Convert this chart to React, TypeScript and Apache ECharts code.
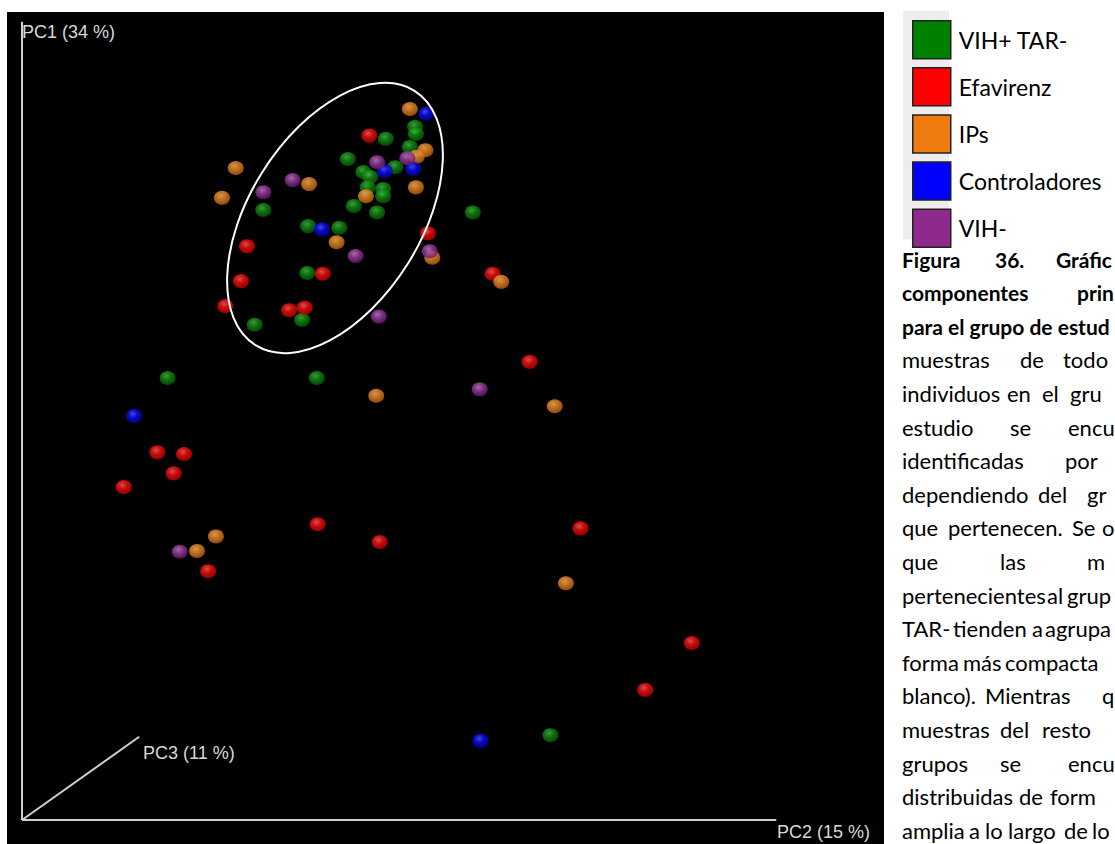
import React, { useEffect, useRef } from 'react';
import * as echarts from 'echarts';

// PCA scores [PC2, PC1] for each study group
const GROUP_NAMES = ['VIH+ TAR-', 'Efavirenz', 'IPs', 'Controladores', 'VIH-'];

const vihPosTarNeg: number[][] = [
  [0.422, 0.843], [0.456, 0.858], [0.457, 0.849], [0.45, 0.833], [0.378, 0.818],
  [0.433, 0.808], [0.396, 0.802], [0.404, 0.796], [0.401, 0.783], [0.419, 0.781],
  [0.419, 0.772], [0.385, 0.76], [0.412, 0.752], [0.28, 0.755], [0.523, 0.752],
  [0.332, 0.735], [0.368, 0.733], [0.331, 0.677], [0.325, 0.619], [0.27, 0.613],
  [0.169, 0.547], [0.342, 0.547], [0.613, 0.105],
];

const efavirenz: number[][] = [
  [0.403, 0.847], [0.471, 0.726], [0.546, 0.676], [0.261, 0.71], [0.349, 0.676],
  [0.254, 0.667], [0.236, 0.636], [0.31, 0.631], [0.328, 0.634], [0.589, 0.567],
  [0.157, 0.455], [0.188, 0.453], [0.176, 0.429], [0.118, 0.412], [0.343, 0.366],
  [0.415, 0.344], [0.648, 0.361], [0.216, 0.308], [0.777, 0.219], [0.723, 0.161],
];

const ips: number[][] = [
  [0.45, 0.88], [0.468, 0.829], [0.458, 0.821], [0.248, 0.807], [0.333, 0.787],
  [0.232, 0.77], [0.399, 0.772], [0.457, 0.783], [0.365, 0.715], [0.476, 0.696],
  [0.556, 0.666], [0.411, 0.525], [0.618, 0.512], [0.225, 0.351], [0.203, 0.333],
  [0.631, 0.293],
];

const controladores: number[][] = [
  [0.469, 0.874], [0.421, 0.803], [0.454, 0.806], [0.348, 0.731], [0.13, 0.5],
  [0.532, 0.098],
];

const vihNeg: number[][] = [
  [0.447, 0.819], [0.412, 0.814], [0.314, 0.792], [0.28, 0.777], [0.473, 0.704],
  [0.387, 0.698], [0.414, 0.623], [0.531, 0.533], [0.183, 0.332],
];

// Axis frame of the 3D view: PC1 (vertical), PC2 (horizontal), PC3 (depth)
const AXIS_PC1 = [[0, 0], [0, 0.988]];
const AXIS_PC2 = [[0, 0], [0.875, 0]];
const AXIS_PC3 = [[0, 0], [0.136, 0.103]];

const GROUP_DATA = [vihPosTarNeg, efavirenz, ips, controladores, vihNeg];

const SWATCH = ['#008000', '#ff0000', '#ef7a0d', '#0000ff', '#8e2a8c'];
const SPHERE = [
  ['#4cc04c', '#138f13', '#075807'],
  ['#ff6a6a', '#ff0d0d', '#b80000'],
  ['#ffbd6e', '#f08c28', '#b85e0c'],
  ['#5a5aff', '#0b0bff', '#0000a8'],
  ['#cf84d4', '#9c40a2', '#62166a'],
];

// Caption column (justified, runs past the page edge): words with starting x
type CapLine = { words: [string, number][]; bold?: boolean };
const CAPTION: CapLine[] = [
  { bold: true, words: [['Figura', 902], ['36.', 995], ['Gráfic', 1056]] },
  { bold: true, words: [['componentes', 902], ['prin', 1077]] },
  { bold: true, words: [['para el grupo de estud', 902]] },
  { words: [['muestras', 902], ['de', 1020], ['todo', 1063]] },
  { words: [['individuos', 902], ['en', 1007], ['el', 1042], ['gru', 1070]] },
  { words: [['estudio', 902], ['se', 1010], ['encu', 1068]] },
  { words: [['identificadas', 902], ['por', 1065]] },
  { words: [['dependiendo', 902], ['del', 1038], ['gr', 1087]] },
  { words: [['que', 902], ['pertenecen.', 948], ['Se', 1072], ['o', 1102]] },
  { words: [['que', 902], ['las', 1000], ['m', 1087]] },
  { words: [['pertenecientes', 902], ['al', 1047], ['grup', 1067]] },
  { words: [['TAR-', 902], ['tienden', 953], ['a', 1032], ['agrupa', 1045]] },
  { words: [['forma', 902], ['más', 963], ['compacta', 1005]] },
  { words: [['blanco).', 902], ['Mientras', 985], ['q', 1102]] },
  { words: [['muestras', 902], ['del', 1000], ['resto', 1042]] },
  { words: [['grupos', 902], ['se', 1000], ['encu', 1068]] },
  { words: [['distribuidas', 902], ['de', 1019], ['form', 1050]] },
  { words: [['amplia', 902], ['a', 969], ['lo', 985], ['largo', 1008], ['de', 1064], ['lo', 1092]] },
];

const BODY_FONT = 'Lato, "Open Sans", sans-serif';
const AXIS_FONT = '"Liberation Sans", Arial, sans-serif';

export default function App() {
  const ref = useRef<HTMLDivElement>(null);

  useEffect(() => {
    if (!ref.current) return;
    document.body.style.margin = '0';
    const chart = echarts.init(ref.current, null, { renderer: 'svg' });

    const sphereSeries = GROUP_NAMES.map((name, i) => ({
      name,
      type: 'scatter',
      data: GROUP_DATA[i],
      symbol: 'circle',
      symbolSize: [16, 14],
      z: 3,
      itemStyle: {
        color: new echarts.graphic.RadialGradient(0.42, 0.35, 0.65, [
          { offset: 0, color: SPHERE[i][0] },
          { offset: 0.45, color: SPHERE[i][1] },
          { offset: 1, color: SPHERE[i][2] },
        ]),
      },
      emphasis: { disabled: true },
    }));

    const axisLine = (data: number[][]) => ({
      type: 'line',
      data,
      symbol: 'none',
      silent: true,
      z: 2,
      lineStyle: { color: '#cfcfcf', width: 2 },
      legendHoverLink: false,
    });

    const graphics: any[] = [];
    // light frames around the legend swatches
    for (let i = 0; i < GROUP_NAMES.length; i++) {
      graphics.push({
        type: 'rect',
        z: 0,
        shape: { x: 903, y: 11 + i * 45.6, width: 46, height: 46 },
        style: { fill: '#ededed' },
      });
    }
    CAPTION.forEach((line, li) => {
      line.words.forEach(([w, x]) => {
        graphics.push({
          type: 'text',
          x,
          y: 259 + li * 33.6,
          style: {
            text: w,
            fill: '#000',
            font: `${line.bold ? 'bold 21px' : '22px'} ${BODY_FONT}`,
            textVerticalAlign: 'middle',
          },
        });
      });
    });
    const axisLabel = (text: string, x: number, y: number) => ({
      type: 'text',
      x,
      y,
      z: 5,
      style: {
        text,
        fill: '#d8d8d8',
        font: `18px ${AXIS_FONT}`,
        textVerticalAlign: 'middle',
      },
    });
    graphics.push(axisLabel('PC1 (34 %)', 22, 32));
    graphics.push(axisLabel('PC2 (15 %)', 777, 832));
    graphics.push(axisLabel('PC3 (11 %)', 143, 753));
    graphics.push({
      type: 'ellipse',
      x: 335,
      y: 218,
      rotation: (58 * Math.PI) / 180,
      z: 10,
      shape: { cx: 0, cy: 0, rx: 150, ry: 86 },
      style: { fill: 'none', stroke: '#ffffff', lineWidth: 2 },
    });

    chart.setOption({
      animation: false,
      backgroundColor: '#ffffff',
      grid: {
        left: 7,
        top: 12,
        width: 877,
        height: 832,
        show: true,
        backgroundColor: '#000000',
        borderWidth: 0,
      },
      xAxis: { type: 'value', min: -0.0174, max: 1.0, show: false },
      yAxis: { type: 'value', min: -0.0297, max: 1.0, show: false },
      legend: {
        orient: 'vertical',
        left: 907,
        top: 15,
        itemWidth: 38,
        itemHeight: 38,
        itemGap: 7.6,
        selectedMode: false,
        data: GROUP_NAMES.map((name, i) => ({
          name,
          icon: 'rect',
          itemStyle: { color: SWATCH[i], borderColor: '#222', borderWidth: 1.5, opacity: 1 },
        })),
        textStyle: {
          fontFamily: BODY_FONT,
          fontSize: 23,
          color: '#000',
          padding: [15, 0, 0, 3],
        },
      },
      tooltip: { show: false },
      series: [axisLine(AXIS_PC1), axisLine(AXIS_PC2), axisLine(AXIS_PC3), ...sphereSeries],
      graphic: graphics,
    });

    return () => chart.dispose();
  }, []);

  return <div ref={ref} style={{ width: 1115, height: 844 }} />;
}
